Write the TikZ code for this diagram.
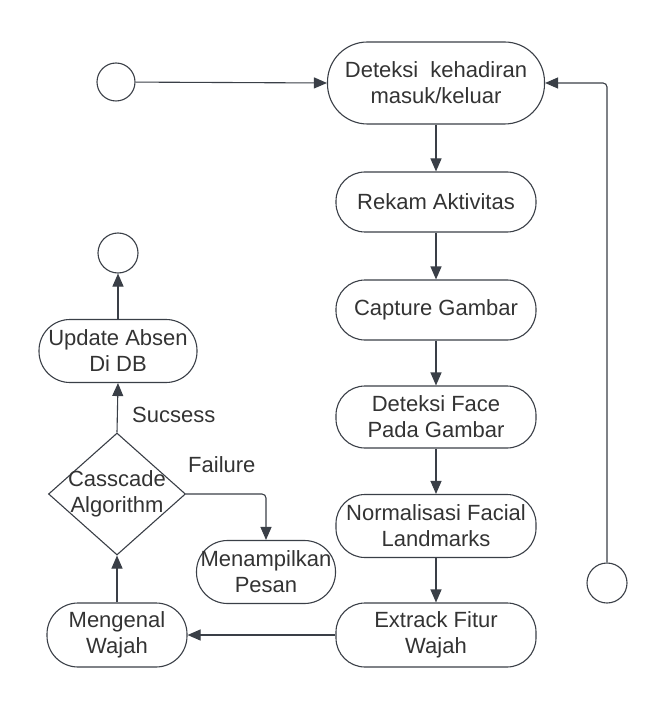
\documentclass[tikz,border=0pt]{standalone}
\usepackage{fontspec}
\setmainfont{Liberation Sans}
\usetikzlibrary{arrows.meta,shapes.geometric}
\definecolor{linec}{HTML}{3A3F47}
\definecolor{textc}{HTML}{333333}
\begin{document}
\begin{tikzpicture}[x=1pt,y=-1pt,
  every node/.style={text=textc, font=\fontsize{22}{26}\selectfont},
  act/.style={draw=linec, line width=1.1pt, rectangle, rounded corners=29pt, align=center, inner sep=0pt},
  circ/.style={draw=linec, line width=1.1pt, circle, minimum size=38pt, inner sep=0pt},
  arr/.style={draw=linec, line width=1.1pt, -{Triangle[length=13pt,width=11pt]}},
  lbl/.style={inner sep=0pt}
]
\useasboundingbox (0,0) rectangle (667,708);
% right column
\node[circ] (start) at (116,82) {};
\node[act, minimum width=217pt, minimum height=82pt, rounded corners=40pt] (n1) at (436,83) {Deteksi\ \ kehadiran\\masuk/keluar};
\node[act, minimum width=200pt, minimum height=60pt] (n2) at (436,202) {Rekam Aktivitas};
\node[act, minimum width=200pt, minimum height=60pt] (n3) at (436,310) {Capture Gambar};
\node[act, minimum width=200pt, minimum height=62pt] (n4) at (436,417) {Deteksi Face\\Pada Gambar};
\node[act, minimum width=200pt, minimum height=63pt] (n5) at (436,526) {Normalisasi Facial\\Landmarks};
\node[act, minimum width=200pt, minimum height=64pt] (n6) at (436,635) {Extrack Fitur\\Wajah};
\node[circ, minimum size=40pt] (endR) at (607,583) {};
\coordinate (rc) at (607,83);
% left column
\node[act, minimum width=140pt, minimum height=64pt, rounded corners=31pt] (n7) at (117,635) {Mengenal\\Wajah};
\node[draw=linec, line width=1.1pt, diamond, aspect=1.12, minimum width=137pt, minimum height=122pt, inner sep=0pt] (dia) at (117,494) {};
\node[align=center, lbl] (diat) at (117,494) {Casscade\\Algorithm};
\node[act, minimum width=158pt, minimum height=63pt, rounded corners=31pt] (n8) at (118,351) {Update Absen\\Di DB};
\node[circ, minimum size=40pt] (endL) at (118,253) {};
\node[act, minimum width=139pt, minimum height=63pt, rounded corners=31pt, text width=139pt] (msg) at (266,572) {Menampilkan\\Pesan};
\node[lbl, anchor=west] (suc) at (132,415) {Sucsess};
\node[lbl, anchor=west] (fail) at (188,465) {Failure};
% connectors
\draw[arr] (start) -- (n1.west);
\draw[arr] (n1) -- (n2);
\draw[arr] (n2) -- (n3);
\draw[arr] (n3) -- (n4);
\draw[arr] (n4) -- (n5);
\draw[arr] (n5) -- (n6);
\draw[arr, rounded corners=4pt] (endR.north) -- (rc) -- (n1.east);
\draw[arr] (n6.west) -- (n7.east);
\draw[arr] (n7.north) -- (dia.south);
\draw[arr] (dia.north) -- (n8.south);
\draw[arr] (n8.north) -- (endL.south);
\draw[arr, rounded corners=4pt] (dia.east) -| (msg.north);
\end{tikzpicture}
\end{document}
